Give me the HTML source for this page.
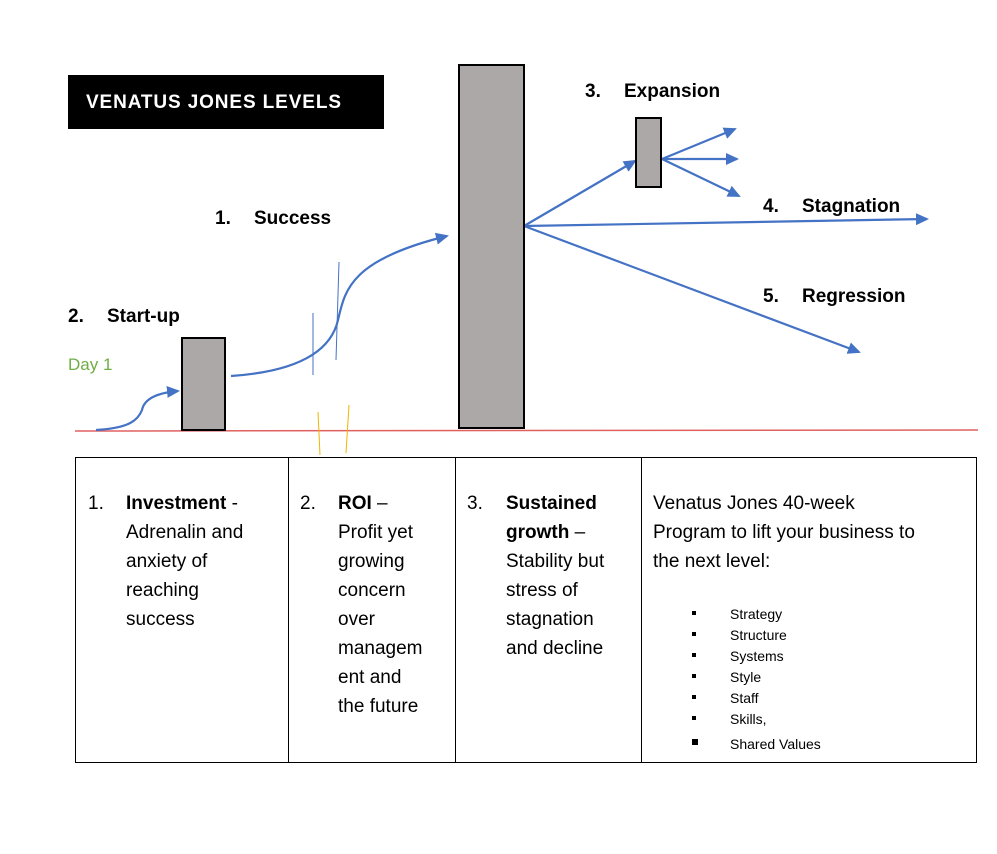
<!DOCTYPE html>
<html><head><style>
html,body{margin:0;padding:0;background:#fff;}
svg text{font-family:"Liberation Sans",sans-serif;}
</style></head><body>
<svg width="997" height="849" viewBox="0 0 997 849" xmlns="http://www.w3.org/2000/svg">
<defs><marker id="a" markerWidth="13" markerHeight="12" refX="11" refY="6" orient="auto" markerUnits="userSpaceOnUse"><path d="M0,0 L13,6 L0,12 z" fill="#4472c4"/></marker></defs>
<rect x="68" y="75" width="316" height="54" fill="#000"/>
<text x="86" y="108" fill="#fff" font-size="19" font-weight="bold" textLength="255">VENATUS JONES LEVELS</text>
<line x1="75" y1="431" x2="978" y2="430" stroke="#e06060" stroke-width="1.5"/>
<line x1="318" y1="412" x2="320" y2="455" stroke="#f0b400" stroke-width="1"/>
<line x1="349" y1="405" x2="346" y2="453" stroke="#f0b400" stroke-width="1"/>
<line x1="313" y1="313" x2="313" y2="375" stroke="#4472c4" stroke-width="1"/>
<line x1="339" y1="262" x2="336" y2="360" stroke="#4472c4" stroke-width="1"/>
<g stroke="#4472c4" stroke-width="2.2" fill="none">
<path d="M96,430 C130,428 138,420 142,410 C144,400 155,393 178,391" marker-end="url(#a)"/>
<path d="M231,376 C290,372 330,355 338,320 C345,290 350,260 447,236" marker-end="url(#a)"/>
<line x1="524" y1="226" x2="635" y2="161" marker-end="url(#a)"/>
<line x1="524" y1="226" x2="927" y2="219" marker-end="url(#a)"/>
<line x1="524" y1="226" x2="859" y2="352" marker-end="url(#a)"/>
<line x1="662" y1="159" x2="735" y2="129" marker-end="url(#a)"/>
<line x1="662" y1="159" x2="737" y2="159" marker-end="url(#a)"/>
<line x1="662" y1="159" x2="739" y2="196" marker-end="url(#a)"/>
</g>
<g fill="#aca8a8" stroke="#000" stroke-width="2">
<rect x="182" y="338" width="43" height="92"/>
<rect x="459" y="65" width="65" height="363"/>
<rect x="636" y="118" width="25" height="69"/>
</g>
<g font-size="19" font-weight="bold" fill="#000">
<text x="585" y="97">3.</text><text x="624" y="97">Expansion</text>
<text x="215" y="224">1.</text><text x="254" y="224">Success</text>
<text x="68" y="322">2.</text><text x="107" y="322">Start-up</text>
<text x="763" y="212">4.</text><text x="802" y="212">Stagnation</text>
<text x="763" y="302">5.</text><text x="802" y="302">Regression</text>
</g>
<text x="68" y="370" font-size="17" fill="#70ad47">Day 1</text>
<g stroke="#000" stroke-width="1" fill="none">
<rect x="75.5" y="457.5" width="901" height="305"/>
<line x1="288.5" y1="457" x2="288.5" y2="763"/>
<line x1="455.5" y1="457" x2="455.5" y2="763"/>
<line x1="641.5" y1="457" x2="641.5" y2="763"/>
</g>
<g font-size="19" fill="#000">
<text x="88" y="509">1.</text><text x="126" y="509"><tspan font-weight="bold">Investment</tspan> -</text>
<text x="126" y="538">Adrenalin and</text>
<text x="126" y="567">anxiety of</text>
<text x="126" y="596">reaching</text>
<text x="126" y="625">success</text>
<text x="300" y="509">2.</text><text x="338" y="509"><tspan font-weight="bold">ROI</tspan> –</text>
<text x="338" y="538">Profit yet</text>
<text x="338" y="567">growing</text>
<text x="338" y="596">concern</text>
<text x="338" y="625">over</text>
<text x="338" y="654">managem</text>
<text x="338" y="683">ent and</text>
<text x="338" y="712">the future</text>
<text x="467" y="509">3.</text><text x="506" y="509" font-weight="bold">Sustained</text>
<text x="506" y="538"><tspan font-weight="bold">growth</tspan> –</text>
<text x="506" y="567">Stability but</text>
<text x="506" y="596">stress of</text>
<text x="506" y="625">stagnation</text>
<text x="506" y="654">and decline</text>
<text x="653" y="509">Venatus Jones 40-week</text>
<text x="653" y="538">Program to lift your business to</text>
<text x="653" y="567">the next level:</text>
</g>
<g font-size="14" fill="#000">
<rect x="692" y="611" width="4" height="4"/><text x="730" y="619">Strategy</text>
<rect x="692" y="632" width="4" height="4"/><text x="730" y="640">Structure</text>
<rect x="692" y="653" width="4" height="4"/><text x="730" y="661">Systems</text>
<rect x="692" y="674" width="4" height="4"/><text x="730" y="682">Style</text>
<rect x="692" y="695" width="4" height="4"/><text x="730" y="703">Staff</text>
<rect x="692" y="716" width="4" height="4"/><text x="730" y="724">Skills,</text>
<rect x="692" y="739" width="6" height="6"/><text x="730" y="749">Shared Values</text>
</g>
</svg>
</body></html>
